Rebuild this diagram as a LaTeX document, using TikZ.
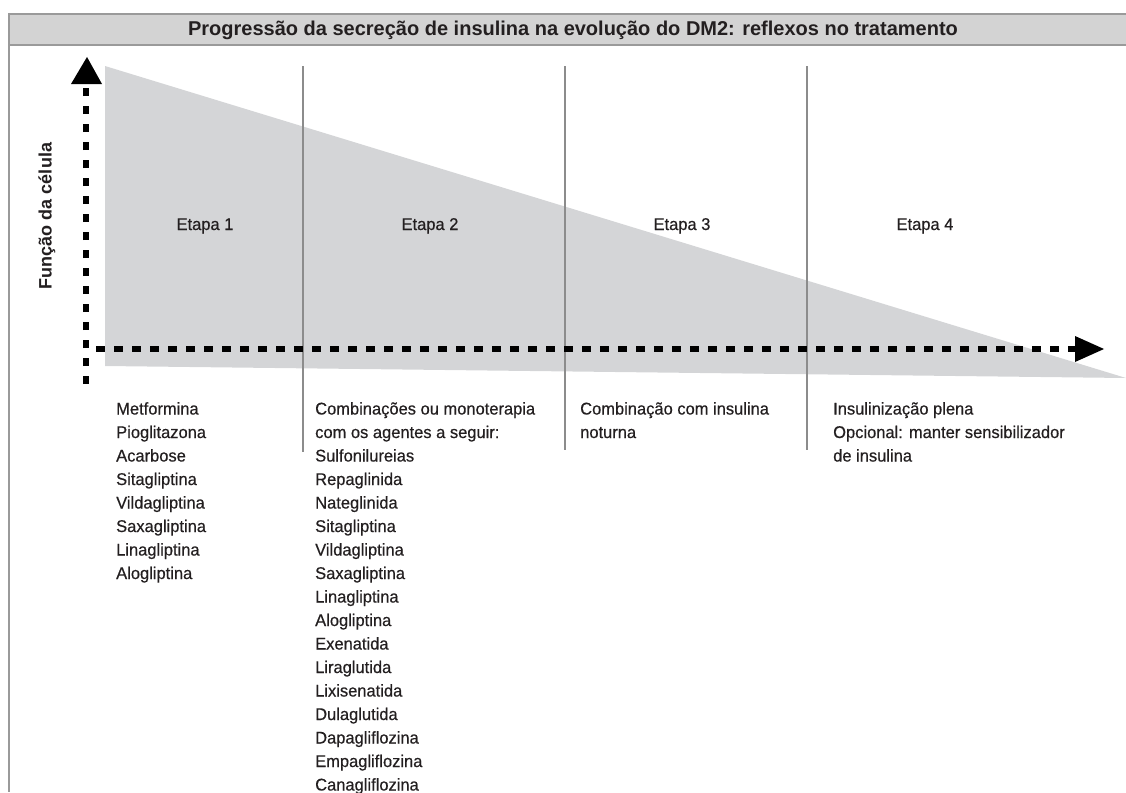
\documentclass[tikz,border=0pt]{standalone}
\usepackage{fontspec}
\setmainfont{Liberation Sans}[FakeStretch=0.97,FakeBold=0.5]
\newfontfamily\titlefont{Liberation Sans}
\definecolor{txt}{HTML}{231F20}
\definecolor{tri}{HTML}{D4D5D7}
\definecolor{bar}{HTML}{D3D3D3}
\definecolor{barline}{HTML}{9A9A9A}
\definecolor{divline}{HTML}{8C8C8C}
\begin{document}
\begin{tikzpicture}[x=1pt,y=-1pt,
  lbl/.style={inner sep=0pt,text=txt,font=\fontsize{17}{23.5}\selectfont},
  lst/.style={lbl,anchor=north west,align=left},
  divider/.style={draw=divline,line width=2pt},
  axis/.style={line width=6.5pt,dash pattern=on 8.5pt off 9.5pt}]
\useasboundingbox (0,0) rectangle (1126,792);
% title bar
\fill[bar] (9,14) rectangle (1126,45);
\draw[barline,line width=2pt] (9,14) -- (1126,14);
\draw[barline,line width=2pt] (9,45) -- (1126,45);
\draw[barline,line width=2.5pt] (9,13) -- (9,792);
\node[lbl,font=\titlefont\fontsize{20}{24}\selectfont\bfseries] (title) at (573,30) {Progressão da secreção de insulina na evolução do DM2: reflexos no tratamento};
% triangle
\fill[tri] (105,66) -- (1126,378) -- (105,366) -- cycle;
% dividers
\coordinate (d1t) at (303,66); \coordinate (d1b) at (303,452);
\coordinate (d2t) at (565,66); \coordinate (d2b) at (565,450);
\coordinate (d3t) at (807,66); \coordinate (d3b) at (807,450);
\draw[divider] (d1t) -- (d1b);
\draw[divider] (d2t) -- (d2b);
\draw[divider] (d3t) -- (d3b);
% axes
\coordinate (yb) at (86,384); \coordinate (yt) at (86,88);
\draw[axis] (yb) -- (yt);
\fill[black] (71,84) -- (87,57) -- (102,84) -- cycle;
\coordinate (xl) at (96,349); \coordinate (xr) at (1076,349);
\draw[axis] (xl) -- (xr);
\fill[black] (1075,336) -- (1104,349) -- (1075,362) -- cycle;
\node[lbl,font=\titlefont\fontsize{18}{22}\selectfont\bfseries,rotate=90] (ylab) at (47,216) {Função da célula};
% stage labels
\node[lbl,anchor=base] (e1) at (205,230) {Etapa 1};
\node[lbl,anchor=base] (e2) at (430,230) {Etapa 2};
\node[lbl,anchor=base] (e3) at (682,230) {Etapa 3};
\node[lbl,anchor=base] (e4) at (925,230) {Etapa 4};
% lists
\node[lst] (c1) at (116,402) {Metformina\\Pioglitazona\\Acarbose\\Sitagliptina\\Vildagliptina\\Saxagliptina\\Linagliptina\\Alogliptina};
\node[lst] (c2) at (315,402) {Combinações ou monoterapia\\com os agentes a seguir:\\Sulfonilureias\\Repaglinida\\Nateglinida\\Sitagliptina\\Vildagliptina\\Saxagliptina\\Linagliptina\\Alogliptina\\Exenatida\\Liraglutida\\Lixisenatida\\Dulaglutida\\Dapagliflozina\\Empagliflozina\\Canagliflozina};
\node[lst] (c3) at (580,402) {Combinação com insulina\\noturna};
\node[lst] (c4) at (833,402) {Insulinização plena\\Opcional: manter sensibilizador\\de insulina};
\end{tikzpicture}
\end{document}
